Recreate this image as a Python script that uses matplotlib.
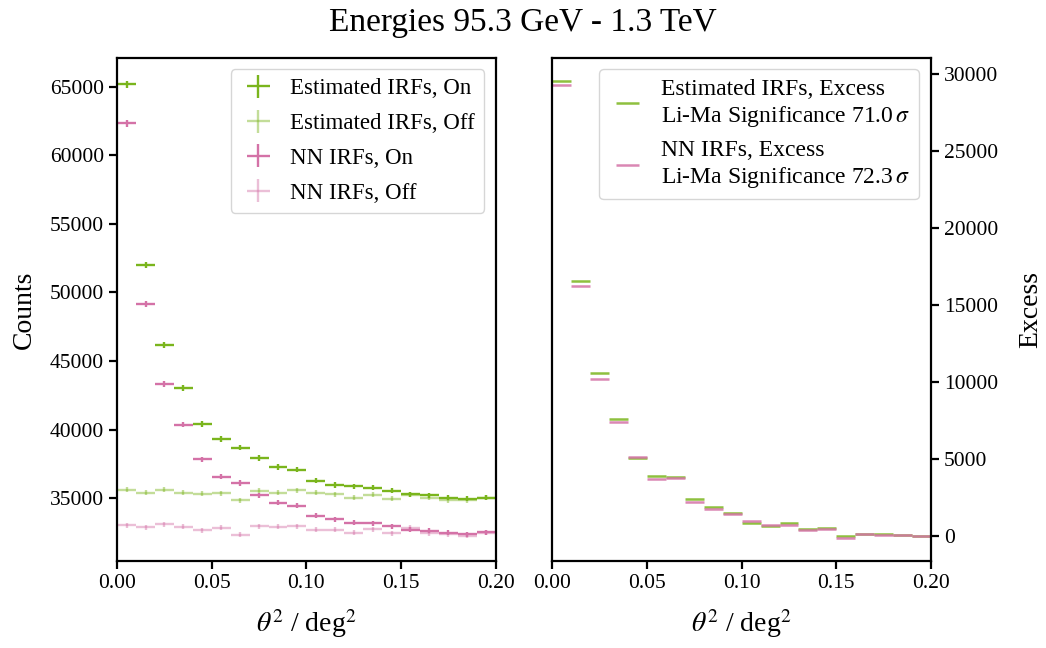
import matplotlib
matplotlib.use('Agg')
import matplotlib.pyplot as plt
import numpy as np

plt.rcParams['font.family'] = ['Liberation Serif', 'DejaVu Serif']
plt.rcParams['mathtext.fontset'] = 'stix'
plt.rcParams['axes.linewidth'] = 1.6
plt.rcParams['xtick.major.width'] = 1.6
plt.rcParams['ytick.major.width'] = 1.6
plt.rcParams['xtick.major.size'] = 6
plt.rcParams['ytick.major.size'] = 6

# theta^2 binning: 20 bins of width 0.01 deg^2
bin_edges = np.linspace(0.0, 0.2, 21)

# counts per bin
est_on = [65200, 51980, 46190, 43010, 40410, 39300, 38680, 37930, 37280, 37080,
          36280, 35950, 35870, 35770, 35530, 35290, 35220, 35040, 34970, 35040]
est_off = [35600, 35400, 35600, 35380, 35310, 35360, 34850, 35530, 35380, 35580,
           35380, 35290, 35020, 35260, 34950, 35240, 35040, 34850, 34850, 35020]
nn_on = [62330, 49140, 43330, 40360, 37840, 36550, 36110, 35220, 34680, 34440,
         33730, 33470, 33200, 33170, 32930, 32710, 32610, 32470, 32370, 32520]
nn_off = [33030, 32880, 33100, 32900, 32660, 32850, 32340, 32960, 32900, 32960,
          32710, 32710, 32490, 32740, 32440, 32830, 32420, 32370, 32250, 32490]

est_sig = 71.0
nn_sig = 72.3

green = '#7ab51d'
pink = '#d472a7'

centers = 0.5 * (bin_edges[1:] + bin_edges[:-1])
half_width = 0.5 * np.diff(bin_edges)

fig, (ax1, ax2) = plt.subplots(1, 2, figsize=(10.46, 6.48), dpi=100)
fig.subplots_adjust(left=0.112, right=0.890, top=0.911, bottom=0.134, wspace=0.15)

series = [
    (est_on, green, 1.0, 'Estimated IRFs, On'),
    (est_off, green, 0.45, 'Estimated IRFs, Off'),
    (nn_on, pink, 1.0, 'NN IRFs, On'),
    (nn_off, pink, 0.45, 'NN IRFs, Off'),
]
for counts, color, alpha, label in series:
    counts = np.asarray(counts, dtype=float)
    ax1.errorbar(centers, counts, xerr=half_width, yerr=np.sqrt(counts),
                 fmt='none', color=color, alpha=alpha, lw=1.7, label=label)

ax1.set_xlim(0, 0.2)
ax1.set_xlabel(r'$\theta^2$ / deg$^2$', fontsize=20, labelpad=10)
ax1.set_ylabel('Counts', fontsize=20, labelpad=9)
ax1.legend(loc='upper right', fontsize=16.5, handlelength=1.6,
           handletextpad=0.6, labelspacing=0.6)

# excess = on - off
est_excess = np.asarray(est_on) - np.asarray(est_off)
nn_excess = np.asarray(nn_on) - np.asarray(nn_off)
ax2.errorbar(centers, est_excess, xerr=half_width, fmt='none', color=green,
             alpha=0.85, lw=1.8,
             label='Estimated IRFs, Excess\nLi-Ma Significance %.1f$\\,\\sigma$' % est_sig)
ax2.errorbar(centers, nn_excess, xerr=half_width, fmt='none', color=pink,
             alpha=0.85, lw=1.8,
             label='NN IRFs, Excess\nLi-Ma Significance %.1f$\\,\\sigma$' % nn_sig)

ax2.set_xlim(0, 0.2)
ax2.yaxis.tick_right()
ax2.yaxis.set_label_position('right')
ax2.set_xlabel(r'$\theta^2$ / deg$^2$', fontsize=20, labelpad=10)
ax2.set_ylabel('Excess', fontsize=20, labelpad=14)
ax2.legend(loc='upper right', fontsize=17, handlelength=1.6,
           handletextpad=0.6, labelspacing=0.5)

for ax in (ax1, ax2):
    ax.tick_params(labelsize=15.5)

fig.suptitle('Energies 95.3 GeV - 1.3 TeV', fontsize=24, y=0.988)

plt.savefig('out.png', dpi=100)
